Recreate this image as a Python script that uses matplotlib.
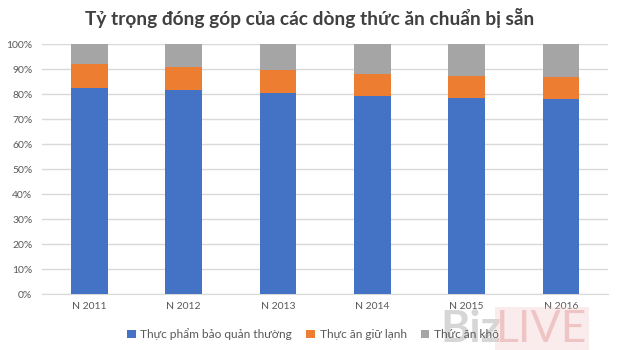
import matplotlib.pyplot as plt
import numpy as np

plt.rcParams['font.family'] = ['Lato', 'Noto Sans', 'DejaVu Sans']

years = ['N 2011', 'N 2012', 'N 2013', 'N 2014', 'N 2015', 'N 2016']
thuong = [82.4, 81.6, 80.4, 79.3, 78.4, 78.0]
lanh = [9.5, 9.1, 9.1, 8.7, 8.8, 8.7]
kho = [100 - a - b for a, b in zip(thuong, lanh)]

names = ['Thực phẩm bảo quản thường', 'Thực ăn giữ lạnh', 'Thức ăn khô']
colors = ['#4472c4', '#ed7d31', '#a5a5a5']

fig = plt.figure(figsize=(6.2, 3.5), dpi=100)
ax = fig.add_axes([0.068, 0.16, 0.913, 0.714])

x = np.arange(len(years))
bottom = np.zeros(len(years))
for vals, name, c in zip([thuong, lanh, kho], names, colors):
    ax.bar(x, vals, 0.39, bottom=bottom, color=c, label=name, zorder=3)
    bottom += np.array(vals)

ax.set_xlim(-0.5, len(years) - 0.5)
ax.set_ylim(0, 100)
ax.set_yticks(np.arange(0, 101, 10))
ax.set_yticklabels([f'{v}%' for v in range(0, 101, 10)])
ax.set_xticks(x)
ax.set_xticklabels(years)
ax.yaxis.grid(True, color='#d9d9d9', linewidth=1, zorder=0)
for s in ['top', 'right', 'left']:
    ax.spines[s].set_visible(False)
ax.spines['bottom'].set_color('#d9d9d9')
ax.tick_params(axis='both', length=0, labelsize=7.5, labelcolor='#595959')
ax.tick_params(axis='y', pad=7)
ax.tick_params(axis='x', pad=6)

fig.text(0.5, 0.95, 'Tỷ trọng đóng góp của các dòng thức ăn chuẩn bị sẵn',
         ha='center', va='center', fontsize=13.8, fontweight='bold', color='#404040')

fig.legend(loc='center', bbox_to_anchor=(0.505, 0.045), ncol=3, frameon=False,
           fontsize=8.6, handlelength=0.7, handleheight=0.7, handletextpad=0.4,
           columnspacing=1.2, labelcolor='#595959')

# watermark
fig.text(0.71, 0.06, 'Biz', fontsize=32, fontweight='bold', color='#9a9a9a',
         alpha=0.4, ha='left', va='center')
fig.text(0.80, 0.06, 'LIVE', fontsize=32, color='#e08a8a', alpha=0.4,
         ha='left', va='center',
         bbox=dict(facecolor='#f3c9c9', edgecolor='none', alpha=0.35, pad=1))

fig.savefig('out.png', dpi=100)
